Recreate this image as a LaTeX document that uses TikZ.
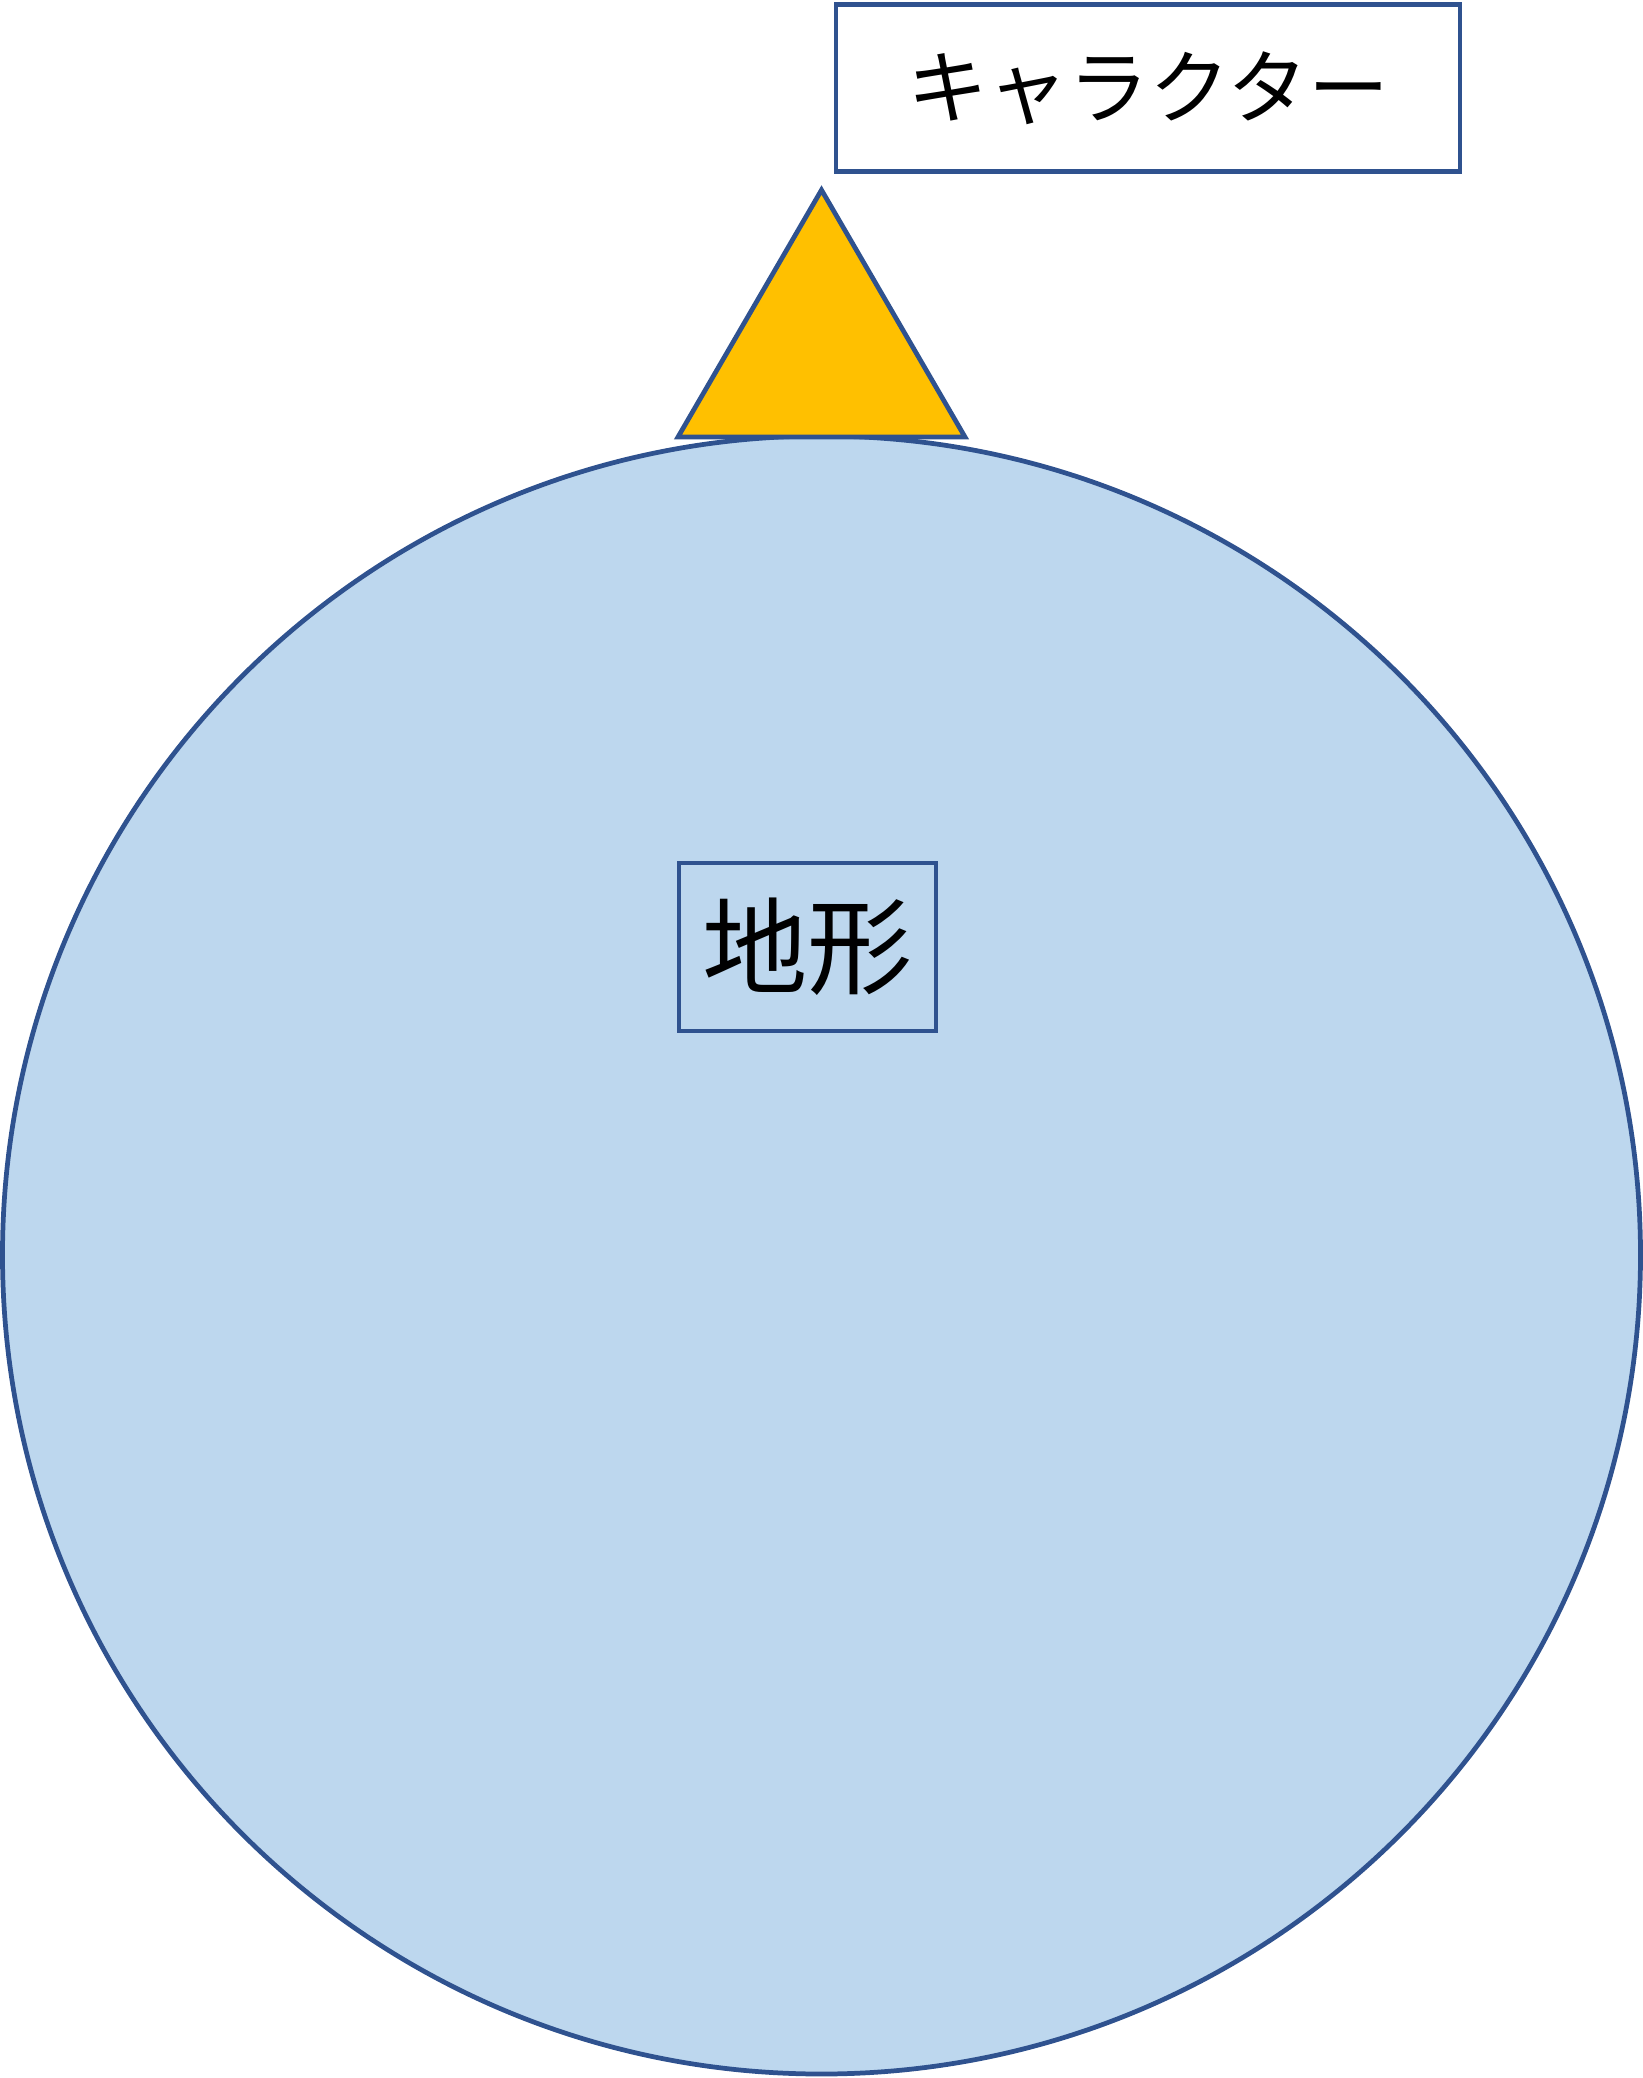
\documentclass[tikz,border=0pt]{standalone}
\usepackage{fontspec}
\newfontfamily\jpfont{Noto Sans CJK JP}
\usetikzlibrary{calc}

\definecolor{bordo}{HTML}{2F528F}
\definecolor{terreno}{HTML}{BDD7EE}
\definecolor{giallo}{HTML}{FFC000}

\begin{document}
\begin{tikzpicture}[line width=1.35pt]
  % Area della figura
  \useasboundingbox (0,0) rectangle (16.43,-20.78);

  % Terreno (il cerchio)
  \coordinate (O) at (8.215,-12.55);
  \draw[bordo, fill=terreno] (O) circle (8.19);

  % Personaggio (il triangolo sopra il terreno)
  \coordinate (T) at (8.215,-4.37);
  \draw[bordo, fill=giallo] ($(T)+(-1.435,0)$) -- ($(T)+(1.435,0)$) -- ($(T)+(0,2.47)$) -- cycle;

  % Etichette
  \node[draw=bordo, fill=white, inner sep=0pt, minimum width=6.24cm, minimum height=1.67cm,
        font=\jpfont\fontsize{23}{27}\selectfont] (personaggio) at (11.48,-0.881) {キャラクター};
  \node[draw=bordo, inner sep=0pt, minimum width=2.57cm, minimum height=1.68cm,
        font=\jpfont\fontsize{30}{35}\selectfont] (suolo) at (8.075,-9.47) {地形};
\end{tikzpicture}
\end{document}
